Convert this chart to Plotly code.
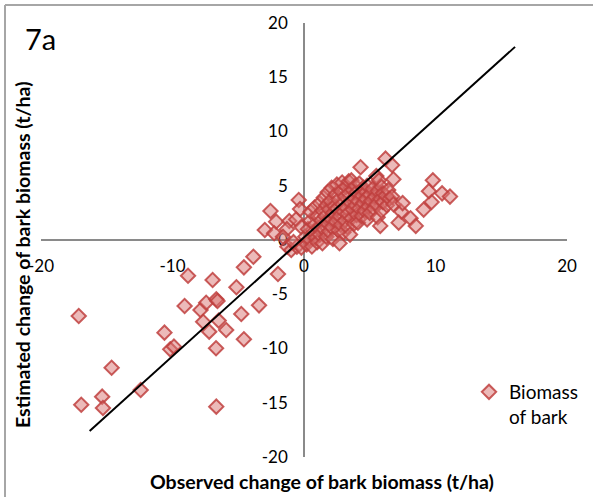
import plotly.graph_objects as go

# Observed vs. estimated change of bark biomass (t/ha)
observed = [
    -17.13, -16.94, -15.35, -15.29, -14.63, -12.42, -10.61, -10.17, -9.89, -9.08,
    -8.82, -7.87, -7.67, -7.44, -7.21, -6.95, -6.67, -6.58, -6.49, -6.69,
    -6.67, -5.92, -5.14, -4.77, -4.57, -4.57, -3.85, -3.42, -1.98,
    -2.55, -2.98, -2.12, -2.27, -1.26, -0.97, -0.40, -0.54, -1.12, -0.20,
    -0.30, -1.30, -0.80, -0.60, -0.20, -1.60,
    0.1, 0.2, 0.3, 0.4, 0.5, 0.5, 0.6, 0.7, 0.8, 0.8, 0.9, 1.0, 1.0, 1.1, 1.2,
    1.2, 1.3, 1.4, 1.4, 1.5, 1.5, 1.6, 1.7, 1.7, 1.8, 1.8, 1.9, 1.9, 2.0, 2.0,
    2.1, 2.1, 2.2, 2.2, 2.3, 2.4, 2.4, 2.5, 2.5, 2.6, 2.6, 2.7, 2.7, 2.8, 2.8,
    2.9, 2.9, 3.0, 3.0,
    3.1, 3.1, 3.2, 3.2, 3.3, 3.3, 3.4, 3.4, 3.5, 3.5, 3.6, 3.6, 3.7, 3.7, 3.8,
    3.8, 3.9, 3.9, 4.0, 4.0,
    4.1, 4.1, 4.2, 4.2, 4.3, 4.4, 4.4, 4.5, 4.5, 4.6, 4.7, 4.7, 4.8, 4.8, 4.9,
    5.0, 5.0,
    5.1, 5.2, 5.3, 5.4, 5.5, 5.5, 5.6, 5.6, 5.7, 5.8, 5.8, 5.9, 5.9, 6.0, 6.0,
    6.2, 6.2, 6.3, 6.4, 6.5, 6.7, 6.7, 6.8, 6.8,
    7.4, 7.5, 7.2, 8.1, 8.5, 9.1, 9.7, 9.5, 9.8, 10.5, 11.1,
]
estimated = [
    -7.00, -15.18, -14.44, -15.48, -11.77, -13.82, -8.54, -10.08, -9.83, -6.08,
    -3.29, -6.45, -7.53, -5.78, -8.45, -3.69, -5.47, -5.62, -7.43, -9.98,
    -15.36, -8.29, -4.36, -6.82, -2.52, -9.15, -1.54, -6.02, -3.13,
    2.67, 0.92, 1.69, 0.62, -0.62, -0.92, 3.69, -0.62, 1.75, -0.70,
    2.85, 1.00, -0.20, 1.90, 1.20, 0.30,
    0.3, -0.4, 1.0, 0.1, 1.8, 2.6, -0.6, 0.7, 1.4, 3.0, 0.2, 2.2, -0.2, 1.1, 3.4,
    0.5, 1.8, 2.7, -0.3, 3.9, 1.0, 2.2, 0.3, 3.2, 4.4, 1.5, 2.8, 0.8, 3.6, 2.0,
    4.8, 1.2, 2.5, 0.1, 3.1, 4.2, 1.7, 5.1, 2.9, 0.9, 3.7, 2.2, -0.3, 4.5, 1.4,
    3.3, 5.3, 2.6, 0.7,
    4.0, 1.8, 4.9, 3.0, 1.2, 2.4, 4.3, 5.4, 3.5, 0.5, 2.0, 5.5, 4.6, 2.8, 3.9,
    1.5, 5.0, 3.2, 2.3, 4.4,
    3.6, 1.6, 5.2, 2.9, 6.7, 4.1, 2.2, 3.4, 4.8, 2.7, 4.4, 3.8, 1.9, 5.0, 3.1,
    4.2, 2.5,
    3.6, 4.7, 2.9, 4.0, 5.9, 3.3, 2.1, 4.5, 5.5, 1.3, 3.8, 4.9, 2.7, 4.3, 3.5,
    7.5, 4.1, 3.2, 4.6, 3.8, 6.9, 4.0, 5.6, 3.3,
    2.6, 3.4, 1.6, 2.0, 1.3, 2.8, 3.5, 4.5, 5.5, 4.3, 4.0,
]

# Reference line end points
line_x = [-16.3, 16.05]
line_y = [-17.6, 17.8]

x_ticks = [-20, -10, 0, 10, 20]
x_tick_labels = ["-20", "-10", "0", "10", "20"]
y_ticks = [-20, -15, -10, -5, 0, 5, 10, 15, 20]
y_tick_labels = ["-20", "-15", "-10", "-5", "0", "5", "10", "15", "20"]

FONT = "Lato"
AXIS_GREY = "#8a8a8a"

fig = go.Figure()

fig.add_trace(go.Scatter(
    x=observed, y=estimated, mode="markers",
    name="Biomass<br>of bark",
    marker=dict(symbol="diamond", size=11,
                color="rgba(218,118,116,0.5)",
                line=dict(color="rgba(192,64,62,0.85)", width=2)),
))

fig.add_trace(go.Scatter(
    x=line_x, y=line_y, mode="lines",
    line=dict(color="black", width=2),
    showlegend=False, hoverinfo="skip",
))

axis_common = dict(
    showgrid=False, zeroline=False, showline=True,
    linecolor=AXIS_GREY, linewidth=1.5,
    ticks="", layer="below traces",
    tickfont=dict(family=FONT, size=17, color="black"),
    anchor="free", position=0.5,
)

fig.update_xaxes(range=[-20, 20], tickvals=x_ticks, ticktext=x_tick_labels,
                 ticklabelstandoff=11, automargin=False, **axis_common)
fig.update_yaxes(range=[-20, 20], tickvals=y_ticks, ticktext=y_tick_labels,
                 ticklabelstandoff=12, automargin=False, **axis_common)

# Axis titles and panel label
fig.add_annotation(text="<b>Observed change of bark biomass (t/ha)</b>",
                   xref="paper", yref="paper", x=(322 - 41) / 526,
                   y=(457 - 482) / 434, showarrow=False,
                   font=dict(family=FONT, size=19.5, color="black"),
                   xanchor="center", yanchor="middle")
fig.add_annotation(text="<b>Estimated change of bark biomass (t/ha)</b>",
                   xref="paper", yref="paper", x=(22 - 41) / 526,
                   y=(457 - 255) / 434, showarrow=False, textangle=-90,
                   font=dict(family=FONT, size=19.5, color="black"),
                   xanchor="center", yanchor="middle")
fig.add_annotation(text="7a", xref="paper", yref="paper",
                   x=(23 - 41) / 526, y=(457 - 38) / 434, showarrow=False,
                   font=dict(family=FONT, size=29, color="black"),
                   xanchor="left", yanchor="middle")

# Outer frame (left and top edges)
fig.add_shape(type="line", xref="paper", yref="paper",
              x0=(5 - 41) / 526, x1=(5 - 41) / 526,
              y0=(457 - 5) / 434, y1=(457 - 500) / 434,
              line=dict(color="#a6a6a6", width=2))
fig.add_shape(type="line", xref="paper", yref="paper",
              x0=(5 - 41) / 526, x1=(600 - 41) / 526,
              y0=(457 - 5) / 434, y1=(457 - 5) / 434,
              line=dict(color="#a6a6a6", width=2))

fig.update_layout(
    width=593, height=497,
    margin=dict(l=41, r=26, t=23, b=40, autoexpand=False),
    paper_bgcolor="white", plot_bgcolor="white",
    font=dict(family=FONT, color="black"),
    legend=dict(x=(469 - 41) / 526, y=(457 - 373) / 434,
                xanchor="left", yanchor="top", valign="top",
                itemwidth=30, tracegroupgap=0,
                bgcolor="rgba(0,0,0,0)",
                font=dict(family=FONT, size=19, color="black")),
)

fig.write_html("out.html")
